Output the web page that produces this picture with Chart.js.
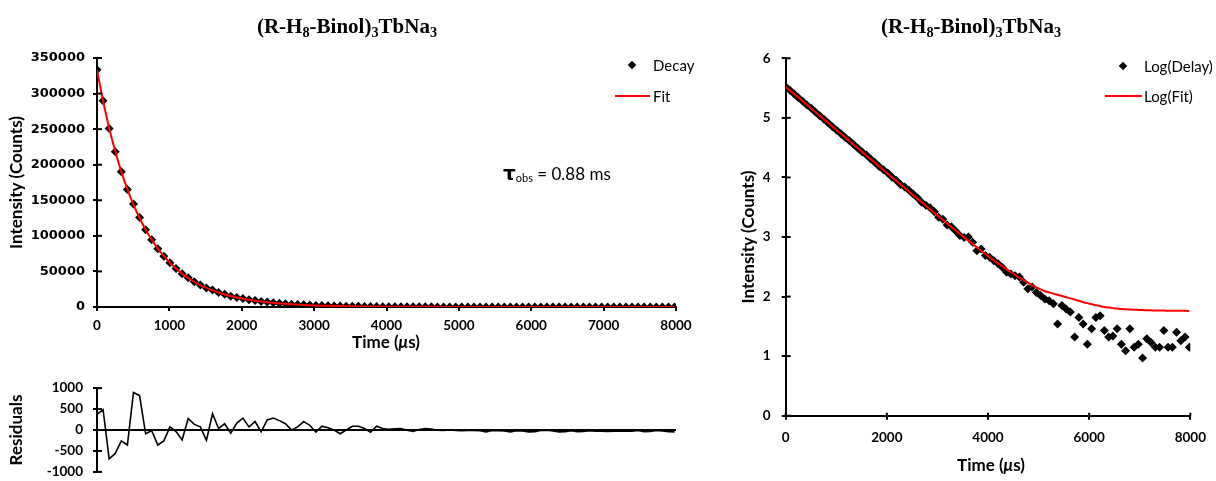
<!DOCTYPE html>
<html>
<head>
<meta charset="utf-8">
<script src="https://cdn.jsdelivr.net/npm/chart.js@4.4.1/dist/chart.umd.min.js"></script>
<style>
  html, body { margin: 0; padding: 0; background: #fff; overflow: hidden; width: 1216px; height: 481px; }
  body { position: relative; font-family: Lato, 'Open Sans', sans-serif; color: #000; }
  canvas { position: absolute; }
  #decayCanvas { left: 0; top: 0; }
  #residCanvas { left: 0; top: 370px; }
  #logCanvas { left: 720px; top: 0; }
  .lbl { position: absolute; white-space: nowrap; line-height: 1; }
  .title { font-family: 'Liberation Serif', 'Times New Roman', serif; font-weight: bold; font-size: 21px; transform: translate(-50%, -50%); }
  .title sub { font-size: 0.68em; vertical-align: -0.3em; line-height: 0; }
  .xtitle { font-weight: bold; font-size: 17px; transform: translate(-50%, -50%); }
  .legtxt { font-size: 15px; transform: translateY(-50%); }
  .diamond { position: absolute; width: 6px; height: 6px; background: #000; transform: translate(-50%, -50%) rotate(45deg); }
  .legline { position: absolute; height: 2px; background: #ff0000; transform: translateY(-50%); }
  .note { font-size: 17px; transform: translateY(-50%); }
  .note b { font-family: 'DejaVu Sans', sans-serif; font-size: 20px; }
  .note sub { font-size: 11px; vertical-align: -0.2em; }
</style>
</head>
<body>
<canvas id="decayCanvas" width="700" height="360"></canvas>
<canvas id="residCanvas" width="700" height="120"></canvas>
<canvas id="logCanvas" width="496" height="481"></canvas>

<div class="lbl title" style="left:347px; top:26px;">(R-H<sub>8</sub>-Binol)<sub>3</sub>TbNa<sub>3</sub></div>
<div class="lbl title" style="left:971px; top:26px;">(R-H<sub>8</sub>-Binol)<sub>3</sub>TbNa<sub>3</sub></div>

<div class="diamond" style="left:632px; top:65px;"></div>
<div class="lbl legtxt" style="left:653px; top:65px;">Decay</div>
<div class="legline" style="left:615px; width:35px; top:96px;"></div>
<div class="lbl legtxt" style="left:653px; top:96px;">Fit</div>

<div class="diamond" style="left:1123px; top:66px;"></div>
<div class="lbl legtxt" style="left:1144px; top:66px;">Log(Delay)</div>
<div class="legline" style="left:1105px; width:37px; top:96px;"></div>
<div class="lbl legtxt" style="left:1144px; top:96px;">Log(Fit)</div>

<div class="lbl note" style="left:503px; top:173px;"><b>τ</b><sub>obs</sub> = 0.88 ms</div>

<div class="lbl xtitle" style="left:386px; top:341px;">Time (<i>μ</i>s)</div>
<div class="lbl xtitle" style="left:991px; top:464px;">Time (<i>μ</i>s)</div>

<script>
// delay times (µs), shared by every series
const times = [0, 84, 168, 252, 336, 420, 504, 588, 672, 756, 840, 924, 1008, 1092, 1176, 1260,
  1344, 1428, 1512, 1596, 1680, 1764, 1848, 1932, 2016, 2100, 2184, 2268, 2352, 2436, 2520, 2604,
  2688, 2772, 2856, 2940, 3024, 3108, 3192, 3276, 3360, 3444, 3528, 3612, 3696, 3780, 3864, 3948,
  4032, 4116, 4200, 4284, 4368, 4452, 4536, 4620, 4704, 4788, 4872, 4956, 5040, 5124, 5208, 5292,
  5376, 5460, 5544, 5628, 5712, 5796, 5880, 5964, 6048, 6132, 6216, 6300, 6384, 6468, 6552, 6636,
  6720, 6804, 6888, 6972, 7056, 7140, 7224, 7308, 7392, 7476, 7560, 7644, 7728, 7812, 7896, 7980];

// measured decay (counts)
const decayCounts = [333430, 290042, 251070, 218297, 189996, 165099, 144753, 125878, 108617, 94502,
  81819, 71186, 62192, 53970, 46718, 41113, 35641, 30952, 26601, 23735, 20344, 17806, 15282, 13521,
  11911, 10192, 8998, 7612, 6906, 6081, 5271, 4546, 3827, 3412, 3108, 2649, 2138, 1995, 1585, 1479,
  1259, 1059, 977, 1000, 813, 589, 631, 490, 457, 398, 355, 309, 257, 240, 224, 214, 174, 135, 145,
  117, 105, 91, 85, 76, 35, 71, 62, 55, 21, 45, 35, 16, 29, 45, 48, 27, 21, 22, 29, 16, 12, 29, 14,
  16, 9, 19, 17, 14, 14, 27, 14, 14, 25, 18, 21, 14];

// single exponential fit (counts)
const fitCounts = [333057, 289557, 251757, 218857, 190257, 165457, 143857, 125057, 108707, 94517,
  82177, 71447, 62117, 54007, 46957, 40837, 35507, 30877, 26847, 23347, 20307, 17657, 15357, 13357,
  11627, 10117, 8797, 7657, 6667, 5797, 5047, 4397, 3827, 3337, 2907, 2537, 2213, 1931, 1686, 1473,
  1288, 1127, 988, 866, 760, 669, 588, 519, 458, 406, 361, 321, 286, 256, 230, 208, 188, 171, 156,
  143, 132, 123, 117, 112, 107, 102, 98, 93, 89, 85, 80, 78, 74, 72, 69, 67, 65, 64, 63, 62, 61, 61,
  60, 60, 59, 59, 59, 58, 58, 58, 58, 58, 58, 58, 58, 57];

// decay - fit
const residuals = [373, 485, -687, -560, -261, -358, 896, 821, -90, -15, -358, -261, 75, -37, -239,
  276, 134, 75, -246, 388, 37, 149, -75, 164, 284, 75, 201, -45, 239, 284, 224, 149, 0, 75, 201, 112,
  -52, 90, 52, 0, -90, 0, 90, 90, 37, -52, 90, 37, 15, 30, 35, -5, -35, 10, 35, 20, -5, -10, 0, -10,
  -15, -10, -10, -15, -45, -10, -15, -20, -45, -15, -20, -45, -40, -10, -5, -20, -45, -40, -15, -40,
  -35, -15, -30, -30, -35, -30, -30, -30, -30, -10, -40, -35, -10, -20, -40, -45];

// log10 of the decay
const logDecay = [5.523, 5.4625, 5.3998, 5.3391, 5.2787, 5.2177, 5.1606, 5.1, 5.0359, 4.9754,
  4.9128, 4.8524, 4.7937, 4.7321, 4.6695, 4.614, 4.552, 4.4907, 4.4249, 4.3754, 4.3084, 4.2506,
  4.1842, 4.131, 4.0759, 4.0083, 3.9542, 3.8815, 3.8392, 3.784, 3.7219, 3.6576, 3.5828, 3.533,
  3.4925, 3.4231, 3.33, 3.30, 3.20, 3.17, 3.10, 3.025, 2.99, 3.00, 2.91, 2.77, 2.80, 2.69, 2.66,
  2.60, 2.55, 2.49, 2.41, 2.38, 2.35, 2.33, 2.24, 2.13, 2.16, 2.07, 2.02, 1.96, 1.93, 1.88, 1.54,
  1.85, 1.79, 1.74, 1.32, 1.65, 1.54, 1.20, 1.46, 1.65, 1.68, 1.43, 1.32, 1.34, 1.46, 1.20, 1.09,
  1.46, 1.15, 1.20, 0.97, 1.29, 1.23, 1.15, 1.15, 1.43, 1.15, 1.15, 1.40, 1.26, 1.32, 1.15];

// log10 of the fit
const logFit = [5.5225, 5.4617, 5.401, 5.3402, 5.2793, 5.2187, 5.1579, 5.0971, 5.0363, 4.9755,
  4.9147, 4.854, 4.7932, 4.7324, 4.6717, 4.611, 4.5503, 4.4896, 4.4289, 4.3682, 4.3077, 4.2469,
  4.1863, 4.1257, 4.0655, 4.0051, 3.9443, 3.884, 3.8239, 3.7632, 3.703, 3.6432, 3.5828, 3.5233,
  3.4634, 3.4043, 3.345, 3.2858, 3.2269, 3.1682, 3.1099, 3.0519, 2.9948, 2.9375, 2.8808, 2.8254,
  2.7694, 2.7152, 2.6609, 2.6085, 2.5575, 2.5065, 2.4564, 2.4082, 2.3617, 2.3181, 2.2742, 2.233,
  2.1931, 2.1553, 2.12, 2.09, 2.07, 2.05, 2.03, 2.01, 1.99, 1.97, 1.95, 1.93, 1.905, 1.89, 1.87,
  1.855, 1.84, 1.825, 1.815, 1.806, 1.799, 1.792, 1.787, 1.783, 1.779, 1.776, 1.773, 1.771, 1.769,
  1.767, 1.765, 1.764, 1.763, 1.762, 1.761, 1.760, 1.760, 1.759];

const pairs = (xs, ys) => xs.map((x, i) => ({ x: x, y: ys[i] }));
const plainNumber = v => String(v);

// short tick marks on the inner side of the axis lines
const innerTicks = {
  id: 'innerTicks',
  afterDatasetsDraw(chart, args, opts) {
    const ctx = chart.ctx;
    const area = chart.chartArea;
    ctx.save();
    ctx.strokeStyle = '#000';
    ctx.lineWidth = 2;
    if (opts.y) {
      const s = chart.scales.y;
      s.ticks.forEach((t, i) => {
        const py = s.getPixelForTick(i);
        ctx.beginPath();
        ctx.moveTo(area.left, py);
        ctx.lineTo(area.left + opts.y, py);
        ctx.stroke();
      });
    }
    if (opts.x) {
      const s = chart.scales.x;
      s.ticks.forEach((t, i) => {
        const px = s.getPixelForTick(i);
        ctx.beginPath();
        ctx.moveTo(px, area.bottom);
        ctx.lineTo(px, area.bottom - opts.x);
        ctx.stroke();
      });
    }
    ctx.restore();
  }
};

Chart.defaults.font.family = 'Lato';
Chart.defaults.color = '#000';

const tickFont = { family: 'Lato', weight: 'bold', size: 13.5 };
const axisTitleFont = { family: 'Lato', weight: 'bold', size: 17 };
const tickGrid = { drawOnChartArea: false, tickLength: 4, tickColor: '#000', lineWidth: 2 };
const axisBorder = { color: '#000', width: 2 };
const base = {
  responsive: false,
  animation: false,
  devicePixelRatio: 1,
  events: []
};

// intensity decay with the fitted curve
new Chart(document.getElementById('decayCanvas'), {
  type: 'scatter',
  data: {
    datasets: [
      { label: 'Fit', data: pairs(times, fitCounts), showLine: true, borderColor: '#ff0000',
        borderWidth: 2, pointRadius: 0, cubicInterpolationMode: 'monotone', order: 0 },
      { label: 'Decay', data: pairs(times, decayCounts), pointStyle: 'rectRot', pointRadius: 4.5,
        pointBackgroundColor: '#000', pointBorderColor: '#000', pointBorderWidth: 0, order: 1 }
    ]
  },
  options: {
    ...base,
    layout: { padding: { left: 2.4, top: 58, right: 24, bottom: 13 } },
    plugins: { legend: { display: false }, tooltip: { enabled: false }, innerTicks: { y: 5 } },
    scales: {
      x: {
        type: 'linear', min: 0, max: 8000,
        afterFit: s => { s.height = 40; },
        ticks: { stepSize: 1000, color: '#000', font: tickFont, padding: 7, maxRotation: 0, callback: plainNumber },
        grid: tickGrid, border: axisBorder
      },
      y: {
        min: 0, max: 350000,
        afterFit: s => { s.width = 94.6; },
        ticks: { stepSize: 50000, color: '#000', font: { family: 'DejaVu Sans', weight: 'bold', size: 13 }, padding: 8, callback: plainNumber },
        grid: tickGrid, border: axisBorder,
        title: { display: true, text: 'Intensity (Counts)', color: '#000', font: axisTitleFont, padding: { top: 4, bottom: 4 } }
      }
    }
  },
  plugins: [innerTicks]
});

// residuals under the decay
new Chart(document.getElementById('residCanvas'), {
  type: 'scatter',
  data: {
    datasets: [
      { label: 'Residuals', data: pairs(times, residuals), showLine: true, borderColor: '#000',
        borderWidth: 1.6, pointRadius: 0, tension: 0 }
    ]
  },
  options: {
    ...base,
    layout: { padding: { left: 2.4, top: 16.7, right: 24, bottom: 13.7 } },
    plugins: { legend: { display: false }, tooltip: { enabled: false }, innerTicks: { y: 5 } },
    scales: {
      x: { type: 'linear', min: 0, max: 8000, display: false },
      y: {
        min: -1000, max: 1000,
        afterFit: s => { s.width = 94.6; },
        ticks: { stepSize: 500, color: '#000', font: tickFont, padding: 10, callback: plainNumber },
        grid: {
          drawOnChartArea: true, tickLength: 4, tickColor: '#000', lineWidth: 2,
          color: c => (c.tick && c.tick.value === 0 ? '#000' : 'rgba(0,0,0,0)')
        },
        border: axisBorder,
        title: { display: true, text: 'Residuals', color: '#000', font: axisTitleFont, padding: { top: 4, bottom: 4 } }
      }
    }
  },
  plugins: [innerTicks]
});

// log10 plot of decay and fit
new Chart(document.getElementById('logCanvas'), {
  type: 'scatter',
  data: {
    datasets: [
      { label: 'Log(Fit)', data: pairs(times, logFit), showLine: true, borderColor: '#ff0000',
        borderWidth: 2, pointRadius: 0, cubicInterpolationMode: 'monotone', order: 0 },
      { label: 'Log(Delay)', data: pairs(times, logDecay), pointStyle: 'rectRot', pointRadius: 4.5,
        pointBackgroundColor: '#000', pointBorderColor: '#000', pointBorderWidth: 0, order: 1 }
    ]
  },
  options: {
    ...base,
    layout: { padding: { left: 14, top: 58.3, right: 21, bottom: 25.3 } },
    plugins: { legend: { display: false }, tooltip: { enabled: false }, innerTicks: { x: 3, y: 5 } },
    scales: {
      x: {
        type: 'linear', min: 0, max: 8000,
        afterFit: s => { s.height = 40; },
        ticks: { stepSize: 2000, color: '#000', font: tickFont, padding: 10, maxRotation: 0, callback: plainNumber },
        grid: tickGrid, border: axisBorder
      },
      y: {
        min: 0, max: 6,
        afterFit: s => { s.width = 51.7; },
        ticks: { stepSize: 1, color: '#000', font: tickFont, padding: 11, callback: plainNumber },
        grid: tickGrid, border: axisBorder,
        title: { display: true, text: 'Intensity (Counts)', color: '#000', font: axisTitleFont, padding: { top: 4, bottom: 4 } }
      }
    }
  },
  plugins: [innerTicks]
});
</script>
</body>
</html>
